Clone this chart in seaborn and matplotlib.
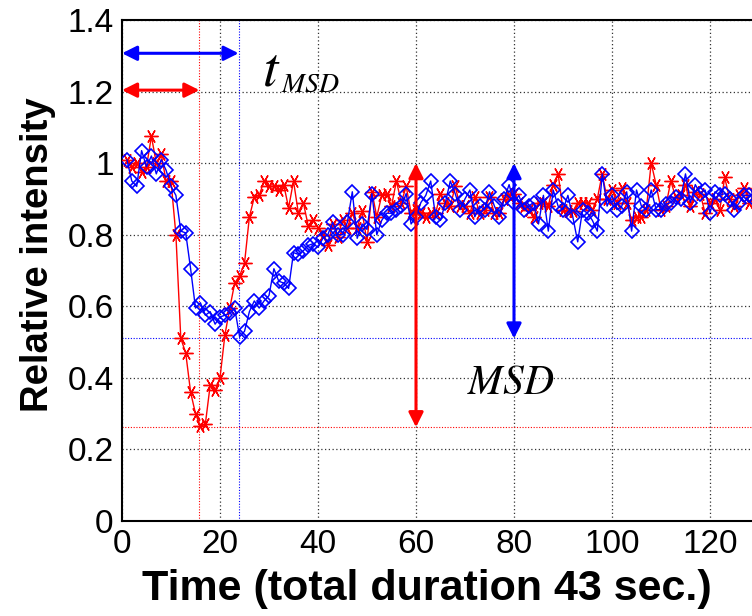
import numpy as np
import matplotlib
matplotlib.use("Agg")
import matplotlib.pyplot as plt
import seaborn as sns
import pandas as pd
from matplotlib import font_manager

# ---------------- data ----------------
time = np.arange(1, 131)

red_values = [
    1.01, 0.99, 1.00, 0.975, 0.99, 1.075, 1.00, 1.025, 0.95, 0.95,
    0.80, 0.51, 0.47, 0.36, 0.30, 0.265, 0.27, 0.38, 0.365, 0.40,
    0.52, 0.595, 0.665, 0.685, 0.72, 0.85, 0.905, 0.91, 0.95, 0.935,
    0.935, 0.925, 0.94, 0.875, 0.95, 0.86, 0.89, 0.825, 0.84, 0.82,
    0.80, 0.77, 0.83, 0.795, 0.84, 0.82, 0.86, 0.82, 0.865, 0.78,
    0.92, 0.85, 0.91, 0.915, 0.88, 0.95, 0.89, 0.935, 0.86, 0.87,
    0.86, 0.85, 0.86, 0.86, 0.915, 0.89, 0.88, 0.935, 0.88, 0.88,
    0.86, 0.905, 0.86, 0.87, 0.905, 0.86, 0.86, 0.90, 0.91, 0.915,
    0.89, 0.88, 0.87, 0.85, 0.89, 0.89, 0.88, 0.94, 0.97, 0.87,
    0.865, 0.865, 0.89, 0.89, 0.89, 0.87, 0.90, 0.97, 0.90, 0.925,
    0.89, 0.93, 0.89, 0.84, 0.85, 0.85, 0.87, 1.00, 0.94, 0.87,
    0.88, 0.95, 0.905, 0.91, 0.94, 0.88, 0.92, 0.915, 0.86, 0.89,
    0.90, 0.87, 0.96, 0.90, 0.88, 0.91, 0.93, 0.89, 0.91, 0.90,
]

blue_values = [
    1.01, 0.95, 0.935, 1.035, 0.99, 1.02, 0.97, 1.01, 0.98, 0.935,
    0.91, 0.81, 0.805, 0.705, 0.595, 0.61, 0.575, 0.585, 0.55, 0.57,
    0.575, 0.58, 0.595, 0.515, 0.53, 0.585, 0.615, 0.595, 0.615, 0.63,
    0.705, 0.67, 0.665, 0.65, 0.75, 0.745, 0.755, 0.77, 0.775, 0.765,
    0.79, 0.80, 0.835, 0.80, 0.80, 0.835, 0.92, 0.79, 0.83, 0.815,
    0.915, 0.80, 0.84, 0.86, 0.86, 0.87, 0.88, 0.915, 0.83, 0.85,
    0.89, 0.91, 0.95, 0.85, 0.84, 0.89, 0.95, 0.915, 0.87, 0.90,
    0.925, 0.85, 0.88, 0.87, 0.92, 0.88, 0.85, 0.90, 0.94, 0.89,
    0.91, 0.87, 0.88, 0.89, 0.83, 0.91, 0.81, 0.925, 0.88, 0.87,
    0.91, 0.85, 0.78, 0.87, 0.86, 0.84, 0.81, 0.97, 0.88, 0.91,
    0.87, 0.88, 0.92, 0.81, 0.925, 0.88, 0.87, 0.925, 0.87, 0.87,
    0.885, 0.89, 0.905, 0.90, 0.97, 0.89, 0.94, 0.915, 0.925, 0.86,
    0.92, 0.91, 0.915, 0.90, 0.87, 0.89, 0.91, 0.91, 0.90, 0.92,
]

x_ticks = [0, 20, 40, 60, 80, 100, 120]
y_ticks = [0, 0.2, 0.4, 0.6, 0.8, 1.0, 1.2, 1.4]
y_tick_labels = ["0", "0.2", "0.4", "0.6", "0.8", "1", "1.2", "1.4"]

red_t_msd = 15.8
blue_t_msd = 23.8
red_min = 0.262
blue_min = 0.510
red_base = 1.0
blue_base = 1.0

# ---------------- style ----------------
sns.set_theme(style="white")
names = {f.name for f in font_manager.fontManager.ttflist}
tick_family = ["Liberation Sans Narrow", "Liberation Sans", "DejaVu Sans"] if "Liberation Sans Narrow" in names else ["Liberation Sans", "DejaVu Sans"]
plt.rcParams["font.family"] = ["Liberation Sans", "DejaVu Sans"]
plt.rcParams["mathtext.fontset"] = "stix"
plt.rcParams["text.color"] = "black"
plt.rcParams["axes.labelcolor"] = "black"
plt.rcParams["xtick.color"] = "black"
plt.rcParams["ytick.color"] = "black"

fig = plt.figure(figsize=(7.52, 6.16), dpi=100)
ax = fig.add_axes([122 / 752, 95 / 616, 637 / 752, 501 / 616])

df = pd.DataFrame({"time": time, "red": red_values, "blue": blue_values})

sns.lineplot(data=df, x="time", y="red", ax=ax, color="red", lw=1.0,
             marker=(6, 2, 90), markersize=10, markeredgewidth=1.0,
             markeredgecolor="red", estimator=None, zorder=3)
sns.lineplot(data=df, x="time", y="blue", ax=ax, color="blue", lw=1.0,
             marker="D", markersize=7, markeredgewidth=1.2,
             markerfacecolor="none", markeredgecolor="blue",
             estimator=None, zorder=4)

ax.set_xlim(0, 130)
ax.set_ylim(0, 1.4)
ax.set_xticks(x_ticks)
ax.set_yticks(y_ticks)
ax.set_yticklabels(y_tick_labels)
for lab in ax.get_xticklabels() + ax.get_yticklabels():
    lab.set_family(tick_family)
    lab.set_fontsize(24)
ax.tick_params(direction="in", length=5, width=1, colors="black", pad=6)

ax.grid(True, color="#333333", linestyle=(0, (1, 2)), linewidth=0.9)
for s in ax.spines.values():
    s.set_color("black")
    s.set_linewidth(1.5)

ax.set_xlabel("Time (total duration 43 sec.)", fontsize=31, fontweight="bold",
              labelpad=6, color="black")
ax.set_ylabel("Relative intensity", fontsize=27.5, fontweight="bold",
              labelpad=8, color="black")
ax.xaxis.label.set_x(0.479)
ax.yaxis.label.set_y(0.531)

# reference lines
ax.axvline(red_t_msd, color="red", linestyle=(0, (1, 1.5)), lw=0.8, zorder=2)
ax.axvline(blue_t_msd, color="blue", linestyle=(0, (1, 1.5)), lw=0.8, zorder=2)
ax.axhline(red_min, color="red", linestyle=(0, (1, 1.5)), lw=0.8, zorder=2)
ax.axhline(blue_min, color="blue", linestyle=(0, (1, 1.5)), lw=0.8, zorder=2)

# arrows
def darrow(x0, y0, x1, y1, color):
    ax.annotate("", xy=(x1, y1), xytext=(x0, y0),
                arrowprops=dict(arrowstyle="<|-|>", color=color, lw=2.2,
                                mutation_scale=22, shrinkA=0, shrinkB=0),
                zorder=6)

darrow(0, 1.307, blue_t_msd, 1.307, "blue")
darrow(0, 1.204, red_t_msd, 1.204, "red")
darrow(60, red_min, 60, red_base, "red")
darrow(80, blue_min, 80, blue_base, "blue")

ax.text(28.6, 1.218, "$t$", fontsize=40, ha="left", va="baseline", zorder=7, color="black")
ax.text(32.4, 1.200, "$MSD$", fontsize=20, ha="left", va="baseline", zorder=7, color="black")
ax.text(79.3, 0.386, "$MSD$", fontsize=30, ha="center", va="center", zorder=7, color="black")

fig.savefig("out.png", dpi=100)
